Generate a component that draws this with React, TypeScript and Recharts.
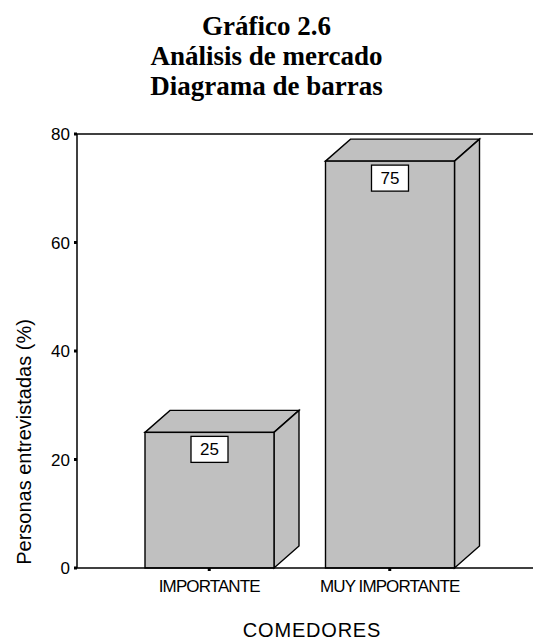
import React from 'react';
import { BarChart, Bar, XAxis, YAxis, ReferenceLine, LabelList } from 'recharts';

const categories = ['IMPORTANTE', 'MUY IMPORTANTE'];
const percents = [25, 75];
const yTicks = [0, 20, 40, 60, 80];

const data = categories.map((name, i) => ({ name, value: percents[i] }));

const SANS = '"Liberation Sans", Arial, sans-serif';
const DX = 25;
const DY = 22;

// front face + top + right side, all the same flat grey
const Box3D = (props: any) => {
  const { x, y, width, height } = props;
  return (
    <g stroke="#000" strokeWidth={1.4} fill="#c0c0c0" strokeLinejoin="miter">
      <path d={`M${x},${y} L${x + DX},${y - DY} L${x + width + DX},${y - DY} L${x + width},${y} Z`} />
      <path
        d={`M${x + width},${y} L${x + width + DX},${y - DY} L${x + width + DX},${y + height - DY} L${x + width},${y + height} Z`}
      />
      <rect x={x} y={y} width={width} height={height} />
    </g>
  );
};

const ValueBox = (props: any) => {
  const { x, y, width, value } = props;
  const cx = x + width / 2;
  return (
    <g>
      <rect x={cx - 18.5} y={y + 4} width={37} height={26} fill="#fff" stroke="#000" strokeWidth={1.3} />
      <text x={cx} y={y + 23} textAnchor="middle" fontFamily={SANS} fontSize={17} fill="#000">
        {value}
      </text>
    </g>
  );
};

const XTitle = (props: any) => {
  const { viewBox } = props;
  return (
    <text
      x={viewBox.x + viewBox.width / 2 + 7}
      y={viewBox.y + viewBox.height - 4}
      textAnchor="middle"
      fontFamily={SANS}
      fontSize={20}
      letterSpacing={0.8}
      fill="#000"
    >
      COMEDORES
    </text>
  );
};

const YTitle = () => (
  <text
    x={31}
    y={442}
    transform="rotate(-90 31 442)"
    textAnchor="middle"
    fontFamily={SANS}
    fontSize={20}
    fill="#000"
  >
    Personas entrevistadas (%)
  </text>
);

export default function App() {
  return (
    <div style={{ position: 'absolute', left: 0, top: 0, width: 533, height: 641, background: '#fff' }}>
      <div
        style={{
          position: 'absolute',
          left: 0,
          top: 11,
          width: 533,
          textAlign: 'center',
          fontFamily: '"Liberation Serif", "Times New Roman", serif',
          fontWeight: 'bold',
          fontSize: 27,
          lineHeight: '30px',
        }}
      >
        Gráfico 2.6
        <br />
        Análisis de mercado
        <br />
        Diagrama de barras
      </div>
      <div style={{ position: 'absolute', left: 0, top: 0 }}>
        <BarChart width={533} height={641} data={data} margin={{ top: 134, right: 0, bottom: 0, left: 0 }}>
          <ReferenceLine y={80} stroke="#000" strokeWidth={1.5} ifOverflow="visible" />
          <XAxis
            dataKey="name"
            height={73}
            padding={{ left: 42, right: 53 }}
            axisLine={{ stroke: '#000', strokeWidth: 1.5 }}
            tickLine={{ stroke: '#000', strokeWidth: 3 }}
            tickSize={3}
            tickMargin={9}
            tick={{ fill: '#000', fontFamily: SANS, fontSize: 17, letterSpacing: -0.9 }}
            label={<XTitle />}
          />
          <YAxis
            width={77}
            domain={[0, 80]}
            ticks={yTicks}
            axisLine={{ stroke: '#000', strokeWidth: 1.5 }}
            tickLine={{ stroke: '#000', strokeWidth: 3 }}
            tickSize={3}
            tickMargin={4}
            tick={{ fill: '#000', fontFamily: SANS, fontSize: 17 }}
            label={<YTitle />}
          />
          <Bar dataKey="value" barSize={129} shape={<Box3D />} isAnimationActive={false}>
            <LabelList dataKey="value" content={<ValueBox />} />
          </Bar>
        </BarChart>
      </div>
    </div>
  );
}
